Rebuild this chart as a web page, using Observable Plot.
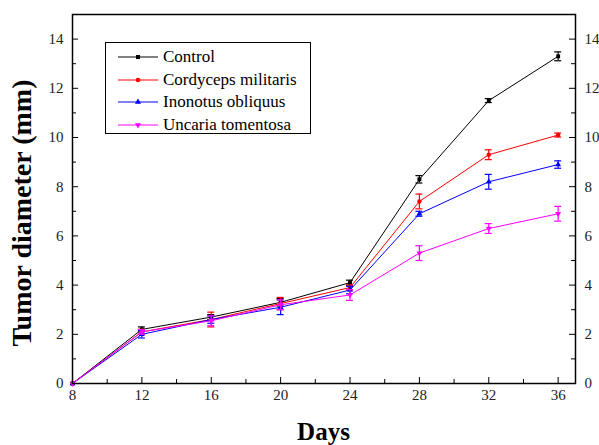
<!DOCTYPE html>
<html><head><meta charset="utf-8">
<script src="https://cdn.jsdelivr.net/npm/d3@7"></script>
<script src="https://cdn.jsdelivr.net/npm/@observablehq/plot@0.6"></script>
<style>
body{margin:0;background:#fff;}
#wrap{position:relative;width:599px;height:445px;}
.atitle{position:absolute;font-family:'Liberation Serif';font-weight:bold;color:#000;line-height:1;white-space:nowrap;}
</style></head><body>
<div id="wrap">
<div class="atitle" id="xtitle" style="left:323.5px;top:431px;font-size:25px;transform:translate(-50%,-50%);">Days</div>
<div class="atitle" id="ytitle" style="left:22px;top:213px;font-size:28px;transform:translate(-50%,-50%) rotate(-90deg);">Tumor diameter (mm)</div>
</div>
<script>
// ---- data ----
const days = [8, 12, 16, 20, 24, 28, 32, 36];
const seriesNames = ["Control", "Cordyceps militaris", "Inonotus obliquus", "Uncaria tomentosa"];
const control      = [0, 2.2, 2.7, 3.3, 4.1, 8.3, 11.5, 13.3];
const controlErr   = [0, 0.1, 0.1, 0.15, 0.1, 0.15, 0.08, 0.18];
const cordyceps    = [0, 2.1, 2.6, 3.25, 3.9, 7.4, 9.3, 10.1];
const cordycepsErr = [0, 0.1, 0.3, 0.25, 0.1, 0.3, 0.2, 0.08];
const inonotus     = [0, 2.0, 2.6, 3.1, 3.8, 6.9, 8.2, 8.9];
const inonotusErr  = [0, 0.15, 0.15, 0.3, 0.15, 0.1, 0.3, 0.15];
const uncaria      = [0, 2.1, 2.55, 3.2, 3.6, 5.3, 6.3, 6.9];
const uncariaErr   = [0, 0.1, 0.2, 0.2, 0.22, 0.3, 0.2, 0.3];
const xMajorTicks = [8, 12, 16, 20, 24, 28, 32, 36];
const xMinorTicks = [10, 14, 18, 22, 26, 30, 34];
const yMajorTicks = [0, 2, 4, 6, 8, 10, 12, 14];
const yMinorTicks = [1, 3, 5, 7, 9, 11, 13];

// ---- styles ----
const SERIF = "'Times New Roman', 'Liberation Serif', serif";
const colors = ["#000000", "#ff0000", "#0000ff", "#ff00ff"];
const triangleDown = {
  draw(ctx, size) {
    const s3 = Math.sqrt(3);
    const y = -Math.sqrt(size / (s3 * 3));
    ctx.moveTo(0, -y * 2);
    ctx.lineTo(-s3 * y, y);
    ctx.lineTo(s3 * y, y);
    ctx.closePath();
  }
};
const symbols = ["square", "circle", "triangle", triangleDown];
const values = [control, cordyceps, inonotus, uncaria];
const errs = [controlErr, cordycepsErr, inonotusErr, uncariaErr];

const W = 599, H = 445, mL = 72, mR = 24, mT = 14, mB = 62;
const iw = W - mL - mR, ih = H - mT - mB;
const majorLen = 6, minorLen = 4;

const marks = [];
marks.push(Plot.ruleX(xMajorTicks, {x: d => d, insetTop: ih - majorLen, stroke: "#000"}));
marks.push(Plot.ruleX(xMinorTicks, {x: d => d, insetTop: ih - minorLen, stroke: "#000"}));
marks.push(Plot.ruleY(yMajorTicks, {y: d => d, insetRight: iw - majorLen, stroke: "#000"}));
marks.push(Plot.ruleY(yMinorTicks, {y: d => d, insetRight: iw - minorLen, stroke: "#000"}));
marks.push(Plot.ruleY(yMajorTicks, {y: d => d, insetLeft: iw - majorLen, stroke: "#000"}));
marks.push(Plot.ruleY(yMinorTicks, {y: d => d, insetLeft: iw - minorLen, stroke: "#000"}));

seriesNames.forEach((name, k) => {
  const rows = days.map((d, i) => ({day: d, value: values[k][i], lo: values[k][i] - errs[k][i], hi: values[k][i] + errs[k][i], err: errs[k][i]}));
  const er = rows.filter(r => r.err > 0);
  marks.push(Plot.line(rows, {x: "day", y: "value", stroke: colors[k], strokeWidth: 1}));
  marks.push(Plot.ruleX(er, {x: "day", y1: "lo", y2: "hi", stroke: colors[k], strokeWidth: 1.2}));
  marks.push(Plot.ruleY(er, {y: "lo", x1: "day", x2: "day", insetLeft: -3.5, insetRight: -3.5, stroke: colors[k], strokeWidth: 1.2}));
  marks.push(Plot.ruleY(er, {y: "hi", x1: "day", x2: "day", insetLeft: -3.5, insetRight: -3.5, stroke: colors[k], strokeWidth: 1.2}));
  marks.push(Plot.dot(rows, {x: "day", y: "value", symbol: symbols[k], fill: colors[k], stroke: "none", r: 2.2}));
});

marks.push(Plot.frame({stroke: "#000", strokeWidth: 1.5}));

const chart = Plot.plot({
  width: W, height: H,
  marginLeft: mL, marginRight: mR, marginTop: mT, marginBottom: mB,
  x: {domain: [8, 37], ticks: xMajorTicks, tickSize: 0, tickPadding: 6, label: null},
  y: {domain: [0, 15], ticks: yMajorTicks, tickSize: 0, tickPadding: 9, label: null, axis: "both"},
  style: {fontFamily: SERIF, fontSize: "15px", color: "#222", background: "#fff"},
  marks
});
chart.querySelectorAll("text").forEach(t => t.style.setProperty("font-family", SERIF, "important"));
const wrap = document.getElementById("wrap");
wrap.insertBefore(chart, wrap.firstChild);

// ---- legend ----
const legend = document.createElement("div");
Object.assign(legend.style, {position: "absolute", left: "105px", top: "42px", width: "206px", height: "92px", border: "1px solid #000", background: "#fff", boxSizing: "border-box"});
wrap.appendChild(legend);
seriesNames.forEach((name, k) => {
  const svg = d3.create("svg").attr("width", 56).attr("height", 22)
    .style("position", "absolute").style("left", "0px").style("top", (3 + k * 22.7) + "px");
  svg.append("line").attr("x1", 12).attr("x2", 52).attr("y1", 11).attr("y2", 11).attr("stroke", colors[k]).attr("stroke-width", 1);
  const sym = typeof symbols[k] === "string"
    ? {square: d3.symbolSquare, circle: d3.symbolCircle, triangle: d3.symbolTriangle}[symbols[k]]
    : symbols[k];
  svg.append("path").attr("transform", "translate(32,11)").attr("d", d3.symbol(sym, 16)()).attr("fill", colors[k]);
  legend.appendChild(svg.node());
  const t = document.createElement("div");
  t.textContent = name;
  Object.assign(t.style, {position: "absolute", left: "57px", top: (3 + k * 22.7) + "px", height: "22px", lineHeight: "22px", fontSize: "17px", color: "#000", whiteSpace: "nowrap"});
  t.style.setProperty("font-family", SERIF, "important");
  legend.appendChild(t);
});
</script>
</body></html>
